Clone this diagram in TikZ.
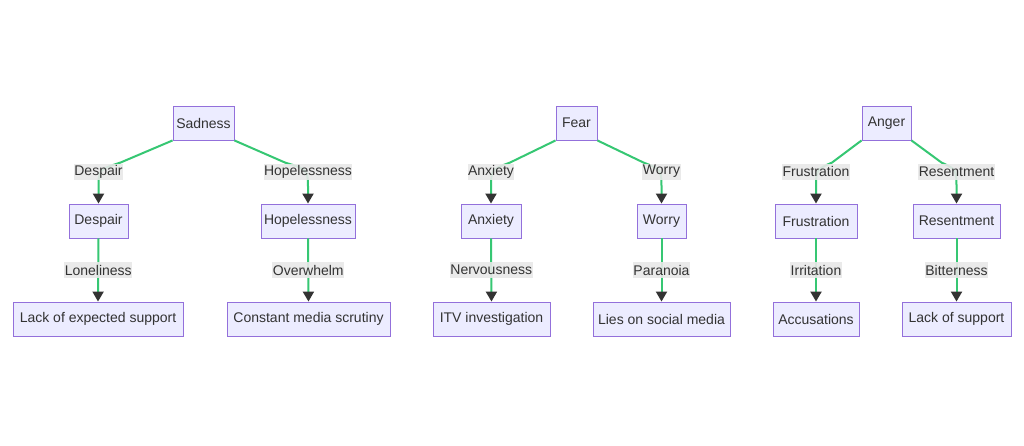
\documentclass[tikz,border=0pt]{standalone}
\usepackage{fontspec}
\setmainfont{Liberation Sans}
\usetikzlibrary{arrows.meta,calc}
\definecolor{boxfill}{HTML}{ECECFF}
\definecolor{boxline}{HTML}{9370DB}
\definecolor{txt}{HTML}{333333}
\definecolor{edgegreen}{HTML}{36C773}
\definecolor{lblbg}{HTML}{E8E8E8}
\tikzset{
  box/.style={draw=boxline, fill=boxfill, line width=0.9pt, minimum height=34pt, inner sep=0pt, text=txt, font=\fontsize{14}{16}\selectfont},
  lbl/.style={fill=lblbg, fill opacity=0.9, text opacity=1, text=txt, inner xsep=0.5pt, inner ysep=0pt, minimum height=16pt, font=\fontsize{14}{16}\selectfont},
  edge/.style={draw=edgegreen, line width=2pt, -{Triangle[length=10pt,width=11pt,color=txt]}},
}
\newcommand\curvedge[4]{%
  \draw[edge] (#1) -- ($(#2.north)+(#3,-41)$) .. controls ($(#2.north)+(0,-34)$) .. ($(#2.north)+(0,-14)$) -- (#2.north);
  \node[lbl] at ($(#2.north)+(0,-32)$) {#4};}
\newcommand\vertedge[3]{%
  \draw[edge] (#1.south) -- (#2.north) node[lbl,midway]{#3};}
\begin{document}
\begin{tikzpicture}[x=1pt,y=-1pt]
\useasboundingbox (0,0) rectangle (1024,445);
\fill[white] (0,0) rectangle (1024,445);
% Sadness tree
\node[box, minimum width=61pt] (sad) at (203.5,123) {Sadness};
\node[box, minimum width=59pt] (desp) at (98.5,221) {Despair};
\node[box, minimum width=94pt] (hope) at (308,221) {Hopelessness};
\node[box, minimum width=170pt] (lexp) at (98,319) {Lack of expected support};
\node[box, minimum width=163pt] (cms) at (308.5,319) {Constant media scrutiny};
% Fear tree
\node[box, minimum width=41pt] (fear) at (576.5,123) {Fear};
\node[box, minimum width=60pt] (anx) at (491,221) {Anxiety};
\node[box, minimum width=49pt] (wor) at (661.5,221) {Worry};
\node[box, minimum width=117pt] (itv) at (491.5,319) {ITV investigation};
\node[box, minimum width=137pt] (lies) at (661.5,319) {Lies on social media};
% Anger tree
\node[box, minimum width=49pt] (ang) at (886.5,123) {Anger};
\node[box, minimum width=82pt] (fru) at (816,221) {Frustration};
\node[box, minimum width=87pt] (res) at (956.5,221) {Resentment};
\node[box, minimum width=86pt] (acc) at (816,319) {Accusations};
\node[box, minimum width=109pt] (lsup) at (956.5,319) {Lack of support};
% edges level 1
\curvedge{sad.south west}{desp}{22}{Despair}
\curvedge{sad.south east}{hope}{-23}{Hopelessness}
\curvedge{fear.south west}{anx}{19}{Anxiety}
\curvedge{fear.south east}{wor}{-18}{Worry}
\curvedge{ang.south west}{fru}{16}{Frustration}
\curvedge{ang.south east}{res}{-15}{Resentment}
% edges level 2
\vertedge{desp}{lexp}{Loneliness}
\vertedge{hope}{cms}{Overwhelm}
\vertedge{anx}{itv}{Nervousness}
\vertedge{wor}{lies}{Paranoia}
\vertedge{fru}{acc}{Irritation}
\vertedge{res}{lsup}{Bitterness}
\end{tikzpicture}
\end{document}
